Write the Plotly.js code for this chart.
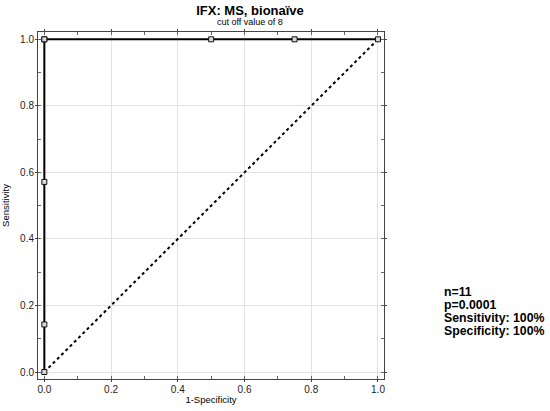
<!DOCTYPE html>
<html><head><meta charset="utf-8">
<script src="https://cdn.plot.ly/plotly-3.0.1.min.js"></script>
<style>html,body{margin:0;padding:0;background:#fff}</style>
</head><body>
<div id="chart" style="width:550px;height:411px"></div>
<script>
const fpr = [0, 0, 0, 0, 0, 0.5, 0.75, 1];
const tpr = [0, 0.1429, 0.5714, 1.0, 1.0, 1.0, 1.0, 1.0];
const refX = [0, 1];
const refY = [0, 1];
const tickVals = [0, 0.2, 0.4, 0.6, 0.8, 1.0];
const tickText = ['0.0', '0.2', '0.4', '0.6', '0.8', '1.0'];
const statsLines = ['n=11', 'p=0.0001', 'Sensitivity: 100%', 'Specificity: 100%'];

const FONT = 'Liberation Sans, Arial, sans-serif';
const traces = [
  {x: refX, y: refY, mode: 'lines', line: {color: '#000', width: 2, dash: 'dot'}, hoverinfo: 'skip'},
  {x: fpr, y: tpr, mode: 'lines+markers', line: {color: '#000', width: 2},
   marker: {symbol: 'square', size: 5, color: '#d8d8d8', line: {color: '#111', width: 1}}}
];
const axisCommon = {
  showline: true, linecolor: '#444', linewidth: 1, mirror: 'ticks',
  ticks: 'outside', ticklen: 2, tickcolor: '#444', ticklabelstandoff: -1,
  tickvals: tickVals, ticktext: tickText,
  showgrid: true, gridcolor: '#e2e2e2', gridwidth: 1, zeroline: false,
  tickfont: {family: FONT, size: 10, color: '#222'},
  minor: {dtick: 0.1, ticks: 'inside', ticklen: 3, tickcolor: '#666', showgrid: false}
};
const annots = [
  {text: 'cut off value of 8', xref: 'paper', yref: 'paper', x: 0.6127, y: 1, yshift: 10,
   xanchor: 'center', yanchor: 'middle', showarrow: false,
   font: {family: FONT, size: 9, color: '#000'}}
];
const statsY = [292, 305, 318, 331];
statsLines.forEach((t, i) => {
  annots.push({text: '<b>' + t + '</b>', xref: 'paper', yref: 'paper',
    x: (443 - 38) / 346, y: (379 - statsY[i]) / 347, xanchor: 'left', yanchor: 'middle',
    align: 'left', showarrow: false, borderpad: 0,
    font: {family: FONT, size: 12.3, color: '#000'}});
});
const layout = {
  width: 550, height: 411, showlegend: false,
  paper_bgcolor: '#fff', plot_bgcolor: '#fff',
  margin: {l: 38, r: 166, t: 32, b: 32},
  title: {text: '<b>IFX: MS, bionaïve</b>', x: 250 / 550, xanchor: 'center', y: 1 - 10.5 / 411, yanchor: 'middle',
          font: {family: FONT, size: 13, color: '#000'}},
  xaxis: Object.assign({}, axisCommon, {range: [-0.019, 1.018],
    title: {text: '1-Specificity', standoff: 2, font: {family: FONT, size: 9.5, color: '#000'}}}),
  yaxis: Object.assign({}, axisCommon, {range: [-0.021, 1.022],
    title: {text: 'Sensitivity', standoff: 10, font: {family: FONT, size: 9.5, color: '#000'}}}),
  annotations: annots
};
Plotly.newPlot('chart', traces, layout, {displayModeBar: false, staticPlot: true});
</script>
</body></html>
